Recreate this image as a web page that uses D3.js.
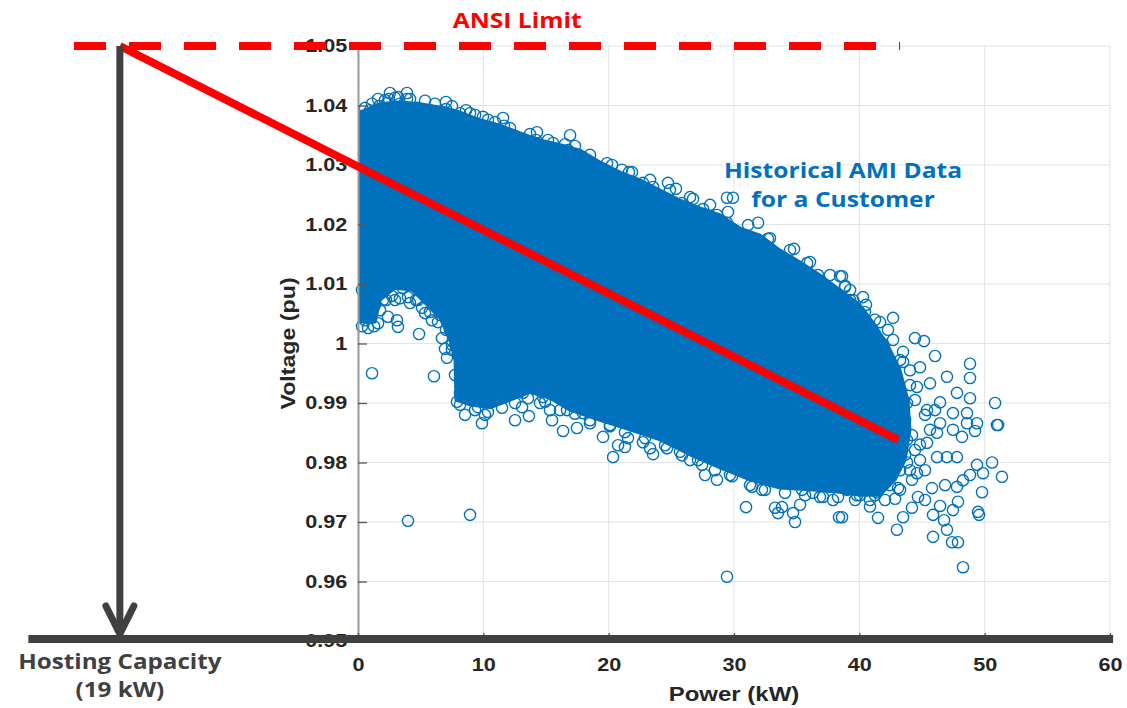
<!DOCTYPE html>
<html>
<head>
<meta charset="utf-8">
<script src="https://cdn.jsdelivr.net/npm/d3@7"></script>
<style>
  body { margin: 0; background: #ffffff; }
  svg { display: block; }
</style>
</head>
<body>
<svg id="chart" width="1127" height="708"></svg>
<script>
// ---- Axis ticks ----
const powerTicks = [0, 10, 20, 30, 40, 50, 60];
const powerTickLabels = ["0", "10", "20", "30", "40", "50", "60"];
const voltageTicks = [0.95, 0.96, 0.97, 0.98, 0.99, 1.00, 1.01, 1.02, 1.03, 1.04, 1.05];
const voltageTickLabels = ["0.95", "0.96", "0.97", "0.98", "0.99", "1", "1.01", "1.02", "1.03", "1.04", "1.05"];

// ---- Saturated core of the AMI cloud (kW, pu): top and bottom edges, left to right ----
const denseUpper = [
  [0.16, 1.0389], [1.76, 1.0403], [3.35, 1.0406], [4.95, 1.0403], [6.94, 1.0396], [8.14, 1.0389],
  [9.73, 1.0376], [11.33, 1.0367], [12.93, 1.0354], [14.52, 1.0342], [16.12, 1.0334], [17.71, 1.0325],
  [19.31, 1.0305], [20.91, 1.0288], [22.5, 1.0275], [24.1, 1.0258], [25.69, 1.0241], [27.29, 1.0228],
  [28.89, 1.0216], [30.48, 1.0194], [32.08, 1.0182], [33.67, 1.0157], [35.27, 1.0137], [36.86, 1.0115],
  [38.46, 1.009], [40.05, 1.0065], [41.25, 1.0031], [42.29, 0.9997], [43.25, 0.9955], [43.88, 0.9905],
  [44.04, 0.9855], [43.65, 0.9804], [42.85, 0.9771], [41.65, 0.9745]
];
const denseLower = [
  [0.16, 1.0036], [1.36, 1.0036], [1.76, 1.0073], [2.95, 1.0093], [4.31, 1.009], [5.35, 1.0068],
  [6.54, 1.0043], [7.34, 1.0006], [7.74, 0.9972], [7.82, 0.9905], [8.94, 0.9897], [10.53, 0.9892],
  [12.13, 0.9905], [13.72, 0.9918], [15.32, 0.9908], [16.92, 0.9888], [19.31, 0.9871], [21.7, 0.9855],
  [24.1, 0.9838], [26.49, 0.9813], [28.89, 0.9791], [31.28, 0.9771], [33.67, 0.9757], [36.06, 0.9754],
  [38.46, 0.975], [40.05, 0.9745], [41.65, 0.9745]
];

// ---- Individual AMI readings around the cloud (kW, pu) ----
const amiReadings = [
  // high-voltage edge, low load
  [2.47, 1.0411], [3.91, 1.0411], [1.68, 1.0399], [3.35, 1.0403], [7.02, 1.0394], [11.65, 1.0366],
  [14.2, 1.0342], [0.8, 1.0379], [4.47, 1.0382], [5.67, 1.0379], [8.46, 1.0374], [9.89, 1.0366],
  [2.55, 1.0421], [3.91, 1.0421], [1.6, 1.0411], [3.19, 1.0414], [7.02, 1.0406], [11.57, 1.0379],
  [14.28, 1.0355], [16.92, 1.035], [15.56, 1.0337], [17.55, 1.0303], [19.87, 1.0303], [18.51, 1.0297],
  [16.76, 1.0325], [12.69, 1.0339], [13.48, 1.0334], [9.97, 1.0381], [8.94, 1.0387], [8.14, 1.0387],
  [5.5, 1.0392], [4.71, 1.0396], [2.31, 1.0404], [0.96, 1.0392], [0.72, 1.0364], [19.15, 1.0288],
  [19.55, 1.027],
  [0.56, 1.0396], [1.12, 1.0403], [2.15, 1.0409], [2.95, 1.0413], [4.15, 1.0411], [5.35, 1.0408],
  [6.14, 1.0403], [7.5, 1.0399], [8.62, 1.0392], [9.34, 1.0384], [10.37, 1.0376], [10.93, 1.0372],
  [12.13, 1.0362], [13.72, 1.0352], [15.16, 1.0342], [16.52, 1.0335], [17.31, 1.0332], [18.51, 1.0317],
  [20.27, 1.03], [21.86, 1.0288], [23.3, 1.0275], [24.89, 1.0258], [26.49, 1.0246], [28.09, 1.0233],
  [29.52, 1.0221], [31.12, 1.0199], [32.87, 1.0177], [34.47, 1.0157], [36.06, 1.0137], [37.66, 1.0115],
  [39.26, 1.009], [40.53, 1.0065], [41.65, 1.0036], [42.69, 1.0006], [43.49, 0.9969],
  // high-voltage edge, mid load
  [21.06, 1.0292], [21.62, 1.0288], [22.74, 1.027], [24.73, 1.027], [25.37, 1.026], [23.54, 1.0263],
  [24.34, 1.0245], [26.73, 1.0243], [25.85, 1.0236], [27.53, 1.0226], [28.64, 1.0216], [29.44, 1.0245],
  [29.92, 1.0245], [31.92, 1.0203], [29.44, 1.0203], [30.72, 1.0182], [32.71, 1.0176], [34.79, 1.0159],
  [35.83, 1.0135], [36.7, 1.0115], [38.46, 1.0113], [38.86, 1.0095], [39.5, 1.0073], [37.42, 1.0095],
  [34.23, 1.0129],
  // high load tail
  [38.62, 1.0113], [38.86, 1.0097], [40.29, 1.0078], [42.69, 1.0043], [44.44, 1.0009], [45.16, 1.0004],
  [46.04, 0.9979], [48.83, 0.9966], [48.83, 0.9942], [50.83, 0.99], [51.07, 0.9863], [46.99, 0.9944],
  [47.79, 0.9917], [48.83, 0.9908], [49.39, 0.9866], [48.59, 0.9883], [48.19, 0.9843], [46.44, 0.9901],
  [44.04, 0.9955], [43.49, 0.9986], [44.84, 0.996], [45.64, 0.9933], [41.89, 0.9999], [41.09, 1.0018],
  [40.05, 1.0051], [40.45, 1.0053], [42.45, 0.9972], [44.6, 0.9927], [45.4, 0.9888], [46.44, 0.9866],
  [47.47, 0.9883], [43.8, 0.99], [42.69, 0.9917],
  [43.25, 0.9905], [43.65, 0.9871], [44.2, 0.9846], [43.65, 0.9813], [44.84, 0.983], [45.64, 0.9855],
  [45.24, 0.988], [44.44, 0.9905], [46.04, 0.9888], [43.25, 0.9787], [44.2, 0.9771], [45.24, 0.9787],
  [42.45, 0.9762], [41.25, 0.9745], [43.25, 0.9972], [44.04, 0.993], [42.29, 1.0023], [41.25, 1.004],
  [39.26, 1.0073],
  [50.98, 0.9863], [50.59, 0.98], [51.38, 0.9776], [49.87, 0.9782], [49.39, 0.9796], [49.79, 0.975],
  [49.47, 0.9717], [49.55, 0.9712], [48.27, 0.9624], [47.87, 0.9666], [47.4, 0.9666], [46.99, 0.9687],
  [45.88, 0.9675], [46.76, 0.9703], [46.44, 0.9727], [45.88, 0.9712], [47.87, 0.9734], [47.47, 0.972],
  [44.2, 0.9724], [43.49, 0.9708], [43.0, 0.9687], [41.49, 0.9707], [40.85, 0.9726], [42.85, 0.9739],
  [44.68, 0.9742], [45.24, 0.9737], [43.09, 0.9757], [45.8, 0.9757], [46.84, 0.9762], [47.79, 0.9759],
  [48.27, 0.977], [48.83, 0.9779], [40.05, 0.9745], [38.62, 0.9708], [41.41, 0.975], [41.89, 0.98],
  [44.6, 0.9782], [46.99, 0.9809], [47.79, 0.9809], [46.2, 0.9809], [44.84, 0.9804], [43.8, 0.98],
  [49.23, 0.9853], [48.59, 0.9866], [47.47, 0.9855], [46.2, 0.985], [45.4, 0.9833], [43.8, 0.9838],
  [42.69, 0.9816], [41.09, 0.9804], [40.05, 0.9787], [39.26, 0.9771], [39.02, 0.9754],
  // low-voltage edge, mid load
  [19.55, 0.9843], [20.35, 0.9809], [20.1, 0.9861], [20.75, 0.9829], [21.3, 0.9826], [21.54, 0.9841],
  [22.74, 0.9834], [23.3, 0.9824], [23.54, 0.9814], [24.65, 0.9824], [25.85, 0.9812], [26.49, 0.9804],
  [27.45, 0.9796], [27.69, 0.9779], [28.64, 0.9771], [29.68, 0.9779], [29.44, 0.9608], [30.96, 0.9725],
  [31.44, 0.9759], [32.23, 0.9754], [33.27, 0.9724], [33.51, 0.9715], [33.83, 0.9725], [34.71, 0.9715],
  [34.87, 0.97], [35.27, 0.9729], [35.43, 0.9754], [36.3, 0.9749], [37.1, 0.9742], [37.9, 0.9737],
  [38.38, 0.9708], [39.02, 0.9757], [39.82, 0.9745],
  [8.14, 0.9897], [9.34, 0.9888], [10.37, 0.9885], [11.49, 0.9892], [12.53, 0.99], [13.56, 0.9908],
  [14.92, 0.9902], [16.12, 0.9888], [17.31, 0.9882], [18.51, 0.9871], [20.11, 0.9863], [21.3, 0.9851],
  [22.9, 0.9841], [24.5, 0.9829], [25.69, 0.9818], [27.13, 0.9804], [28.48, 0.9787], [29.84, 0.9777],
  [31.28, 0.9762], [32.47, 0.9754], [34.07, 0.9749], [35.67, 0.9745], [36.86, 0.9742], [38.3, 0.9742],
  [39.66, 0.9737], [40.85, 0.9737], [42.05, 0.9737], [43.25, 0.9754], [44.04, 0.9787], [44.44, 0.9821],
  // low-voltage edge, low load
  [1.12, 0.995], [6.06, 0.9945], [4.87, 1.0016], [3.19, 1.0028], [1.6, 1.0034], [0.56, 1.0039],
  [2.39, 1.0045], [3.11, 1.0039], [2.0, 1.0073], [3.59, 1.0093], [4.15, 1.0068], [5.35, 1.0051],
  [5.9, 1.0039], [6.7, 1.0009], [6.94, 0.9991], [7.1, 0.9976], [7.9, 0.9902], [8.54, 0.988],
  [9.89, 0.9866], [10.13, 0.988], [9.57, 0.9893], [11.09, 0.991], [12.53, 0.9871], [13.64, 0.9878],
  [13.09, 0.9893], [13.17, 0.9917], [14.76, 0.991], [15.48, 0.9871], [16.36, 0.9853], [17.47, 0.9858],
  [18.51, 0.9866], [17.95, 0.9883], [16.68, 0.9888], [15.32, 0.9888], [14.52, 0.99], [14.28, 0.9927],
  [11.89, 0.9917], [8.94, 0.991], [8.14, 0.9917],
  [2.55, 1.0098], [2.95, 1.0073], [3.75, 1.0107], [4.79, 1.0073], [5.35, 1.009], [6.3, 1.0073],
  [6.54, 1.0048], [7.34, 1.0023], [7.5, 0.9998], [0.56, 1.0073], [0.8, 1.0056], [0.32, 1.009],
  [1.36, 1.0065],
  [0.32, 1.0029], [0.8, 1.0026], [1.28, 1.0029], [1.76, 1.0056], [2.23, 1.0073], [2.71, 1.008],
  [3.35, 1.0076], [3.99, 1.0078], [4.63, 1.0073], [5.11, 1.006], [5.74, 1.0053], [6.38, 1.0036],
  [7.02, 1.0023], [7.5, 0.9989], [7.74, 0.9947],
  // isolated readings
  [3.99, 0.9702], [8.94, 0.9712]
];

// ---- Hosting capacity construction ----
const ansiLimit = 1.05;             // pu
const hostingCapacity = 19;         // kW of export
const ansiSpan = [-22.66, 43.25];   // kW extent of the limit line
const fitLine = [[-hostingCapacity, ansiLimit], [43.1, 0.9838]];
const baseSpan = [-26.3, 60.25];    // kW extent of the base line

// ---- Scales ----
const x = d3.scaleLinear().domain([0, 60]).range([358, 1110]);
const y = d3.scaleLinear().domain([0.95, 1.05]).range([641, 46]);

const svg = d3.select("#chart");
const blue = "#0072BD";
const dark = "#404040";
const tickFont = "'Liberation Sans', Arial, Helvetica, sans-serif";
const noteFont = "'Open Sans', 'Noto Sans', sans-serif";

// grid
const grid = svg.append("g").attr("stroke", "#e3e3e3").attr("stroke-width", 1);
grid.selectAll("line.v").data(powerTicks).join("line").attr("class", "v")
  .attr("x1", d => x(d)).attr("x2", d => x(d)).attr("y1", y(0.95)).attr("y2", y(1.05));
grid.selectAll("line.h").data(voltageTicks).join("line").attr("class", "h")
  .attr("x1", x(0)).attr("x2", x(60)).attr("y1", d => y(d)).attr("y2", d => y(d));

// saturated core of the scatter
svg.append("path")
  .datum(denseUpper.concat(denseLower.slice().reverse()))
  .attr("d", d3.line().curve(d3.curveLinearClosed).x(d => x(d[0])).y(d => y(d[1])))
  .attr("fill", blue).attr("stroke", blue).attr("stroke-width", 3).attr("stroke-linejoin", "round");

// individual readings
svg.append("g").selectAll("circle").data(amiReadings).join("circle")
  .attr("cx", d => x(d[0])).attr("cy", d => y(d[1])).attr("r", 5.6)
  .attr("fill", "none").attr("stroke", blue).attr("stroke-width", 1.4);

// y axis
const gy = svg.append("g").attr("transform", `translate(${x(0)},0)`)
  .call(d3.axisLeft(y).tickValues(voltageTicks).tickFormat((d, i) => voltageTickLabels[i])
    .tickSize(-9).tickSizeOuter(0).tickPadding(9));
gy.select(".domain").attr("stroke", "#9a9a9a").attr("stroke-width", 2);
gy.selectAll(".tick line").attr("stroke", "#555").attr("stroke-width", 1.3);
gy.selectAll(".tick text").attr("font-family", tickFont).attr("font-size", 18)
  .attr("font-weight", "bold").attr("fill", "#262626").attr("transform", "scale(1.2,1)");

// x axis
const gx = svg.append("g").attr("transform", `translate(0,${y(0.95)})`)
  .call(d3.axisBottom(x).tickValues(powerTicks).tickFormat((d, i) => powerTickLabels[i])
    .tickSize(-8).tickSizeOuter(0).tickPadding(17));
gx.select(".domain").attr("stroke", "#9a9a9a").attr("stroke-width", 1);
gx.selectAll(".tick line").attr("stroke", "#555").attr("stroke-width", 1.3);
gx.selectAll(".tick text").attr("font-family", tickFont).attr("font-size", 18)
  .attr("font-weight", "bold").attr("fill", "#262626").attr("transform", "scale(1.2,1)");

// axis titles
svg.append("text")
  .attr("transform", `translate(${x(30)},701) scale(1.2,1)`)
  .attr("text-anchor", "middle").attr("font-family", tickFont).attr("font-size", 20)
  .attr("font-weight", "bold").attr("fill", "#262626").text("Power (kW)");
svg.append("text")
  .attr("transform", `translate(295,${y(1.0)}) rotate(-90) scale(1.16,1)`)
  .attr("text-anchor", "middle").attr("font-family", tickFont).attr("font-size", 20)
  .attr("font-weight", "bold").attr("fill", "#262626").text("Voltage (pu)");

// regression line from the ANSI limit through the data
svg.append("path").datum(fitLine)
  .attr("d", d3.line().x(d => x(d[0])).y(d => y(d[1])))
  .attr("stroke", "#ff0000").attr("stroke-width", 8).attr("fill", "none");

// ANSI limit
svg.append("line")
  .attr("x1", x(ansiSpan[0])).attr("x2", x(ansiSpan[1]))
  .attr("y1", y(ansiLimit)).attr("y2", y(ansiLimit))
  .attr("stroke", "#ff0000").attr("stroke-width", 8).attr("stroke-dasharray", "32,23");

// base line
const baseY = y(0.95) - 2;
svg.append("line")
  .attr("x1", x(baseSpan[0])).attr("x2", x(baseSpan[1]))
  .attr("y1", baseY).attr("y2", baseY)
  .attr("stroke", dark).attr("stroke-width", 8);

// hosting capacity arrow
const ax = x(-hostingCapacity);
const tipY = baseY - 5;
svg.append("line")
  .attr("x1", ax).attr("x2", ax).attr("y1", y(ansiLimit)).attr("y2", tipY - 3)
  .attr("stroke", dark).attr("stroke-width", 7);
svg.append("path")
  .attr("d", `M${ax - 14},${tipY - 28} L${ax},${tipY} L${ax + 14},${tipY - 28}`)
  .attr("stroke", dark).attr("stroke-width", 7).attr("fill", "none")
  .attr("stroke-linecap", "round").attr("stroke-linejoin", "miter");

// annotations
function note(cx, by, text, color, sx) {
  svg.append("text")
    .attr("transform", `translate(${cx},${by}) scale(${sx},1)`)
    .attr("text-anchor", "middle").attr("font-family", noteFont).attr("font-size", 22)
    .attr("font-weight", "bold").attr("fill", color).text(text);
}
note(x(12.7), 28, "ANSI Limit", "#ff0000", 1.12);
note(x(38.7), 178, "Historical AMI Data", "#0070C0", 1.12);
note(x(38.7), 207, "for a Customer", "#0070C0", 1.12);
note(ax, 669, "Hosting Capacity", dark, 1.1);
note(ax, 697, "(19 kW)", dark, 1.1);
</script>
</body>
</html>
